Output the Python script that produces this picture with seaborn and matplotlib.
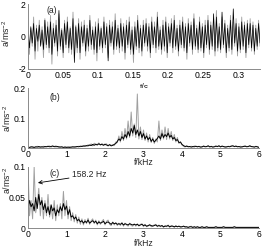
import matplotlib
matplotlib.use("Agg")
import matplotlib.pyplot as plt
import seaborn as sns
import numpy as np

# ---------------- data ----------------
t_max = 0.331
# panel (a) time signals
sig_gray = [0.8,-1.1,0.5,-0.6,1.2,-1.4,0.7,-0.9,1.0,-0.5,
            0.6,-1.3,1.1,-0.7,0.9,-1.0,1.3,-1.7,0.8,-0.6,
            1.0,-1.2,1.4,-0.8,0.5,-1.3,1.0,-0.7,1.2,-1.0,
            0.6,-1.1,1.5,-0.9,0.7,-1.0,1.1,-1.4,0.9,-0.6,
            1.0,-1.2,0.7,-0.9,1.3,-0.8,0.6,-1.1,0.9,-1.5,
            1.1,-0.8,0.6,-1.0,1.2,-0.7,0.8,-1.3,1.0,-0.6,
            0.9,-1.1,1.4,-0.8,0.7,-1.0,1.1,-0.9,0.8,-1.4,
            1.0,-0.7,1.2,-1.1,0.6,-1.6,0.9,-0.8,1.3,-1.0,
            0.7,-1.2,1.0,-0.6,1.1,-0.9,0.8,-1.3,1.2,-0.7,
            0.9,-1.0,1.5,-0.8,0.6,-1.1,1.0,-0.9,1.2,-1.3,
            0.8,-0.6,1.1,-1.0,1.3,-0.8,0.7,-1.2,1.0,-0.7,
            1.2,-0.9,0.8,-1.4,1.1,-0.6,0.9,-1.1,1.4,-0.8,
            0.7,-1.0,1.2,-0.9,0.8,-1.3,1.0,-0.7,1.3,-1.1,
            0.9,-0.8,1.1,-1.2,1.6,-0.9,0.8,-1.0,1.2,-0.7,
            1.0,-1.3,0.7,-0.9,1.3,-1.1,0.9,-0.6,1.1,-1.2,
            0.8,-1.0,1.2,-0.8,0.9,-1.3,1.0,-0.7,1.1,-0.9,
            0.9,-1.1,0.7,-0.8,1.0,-0.6]
sig_black = [0.3,-0.7,0.6,-0.4,0.8,-0.9,0.5,-0.3,0.7,-0.6,
             0.4,-0.8,1.0,-0.5,0.6,-0.7,0.9,-1.1,0.5,-0.4,
             0.7,-0.9,1.6,-0.6,0.4,-1.0,0.8,-0.5,0.9,-0.7,
             0.5,-0.8,1.1,-1.6,0.6,-0.7,0.8,-1.0,0.6,-0.4,
             0.7,-0.9,0.5,-0.6,1.0,-0.5,0.4,-0.8,0.6,-1.0,
             0.8,-0.6,0.5,-0.7,0.9,-0.5,0.6,-1.5,0.7,-0.4,
             0.6,-0.8,1.0,-0.6,0.5,-0.7,0.8,-0.6,0.6,-1.0,
             0.7,-0.5,0.9,-0.8,0.4,-1.1,0.6,-0.6,1.0,-0.7,
             0.5,-0.9,0.7,-0.4,0.8,-0.6,0.6,-1.0,0.9,-0.5,
             0.6,-0.7,1.2,-0.6,0.4,-0.8,0.7,-0.6,0.9,-1.0,
             0.6,-0.4,0.8,-0.7,1.0,-0.6,0.5,-0.9,0.7,-0.5,
             0.9,-0.7,0.6,-1.0,0.8,-0.4,0.7,-0.8,1.1,-0.6,
             0.5,-0.8,0.9,-0.7,0.6,-1.0,0.7,-0.5,1.0,-0.8,
             0.7,-0.6,1.4,-0.9,1.2,-0.7,0.6,-0.8,1.5,-0.5,
             0.8,-1.0,0.5,-0.7,1.0,-0.8,1.7,-0.4,0.8,-0.9,
             0.6,-0.8,0.9,-0.6,0.7,-1.0,0.8,-0.5,0.8,-0.7,
             0.7,-0.9,0.5,-0.6,0.8,-0.4]
t = np.linspace(0, t_max, len(sig_gray))

# panel (b) envelope spectrum (0..6 kHz)
spec_b_gray = [0.004,0.001,0.003,0.005,0.002,0.003,0.006,0.002,0.004,0.003,
               0.006,0.003,0.005,0.004,0.007,0.003,0.005,0.006,0.003,0.004,
               0.002,0.004,0.003,0.001,0.004,0.003,0.002,0.004,0.002,0.003,
               0.005,0.003,0.004,0.006,0.004,
               0.007,0.005,0.009,0.006,0.011,0.008,0.014,0.007,0.016,0.010,
               0.012,0.017,0.009,0.015,0.011,0.010,0.014,0.006,0.012,0.009,
               0.011,0.008,0.020,
               0.018,0.040,0.020,0.055,0.025,0.065,0.030,0.090,0.035,0.120,
               0.040,0.080,0.035,0.180,0.030,0.070,0.028,0.060,0.025,0.050,
               0.020,0.045,0.018,0.035,0.015,
               0.030,0.020,0.090,0.025,0.060,0.030,0.070,0.028,0.065,0.030,
               0.055,0.025,0.045,0.020,0.035,0.015,0.020,0.010,
               0.006,0.003,0.008,0.005,0.004,0.006,0.003,0.007,0.005,0.004,
               0.006,0.004,0.003,0.007,0.005,0.004,0.008,0.003,0.006,0.004,
               0.005,0.007,0.004,0.008,0.003,0.007,0.004,0.005,0.003,0.006,
               0.005,0.007,0.008,0.004,0.007,0.005,0.004,0.006,0.003,0.006,
               0.007,0.005,0.004,0.008,0.004,0.005,0.004,0.006,0.003,0.002]
spec_b_black = [0.003,0.002,0.004,0.003,0.002,0.004,0.003,0.005,0.003,0.004,
                0.003,0.005,0.004,0.006,0.004,0.005,0.007,0.004,0.006,0.005,
                0.004,0.003,0.004,0.002,0.003,0.002,0.003,0.002,0.003,0.004,
                0.003,0.004,0.005,0.004,0.006,
                0.005,0.007,0.006,0.008,0.007,0.010,0.008,0.012,0.009,0.013,
                0.010,0.014,0.011,0.012,0.009,0.013,0.010,0.008,0.011,0.007,
                0.009,0.012,0.015,
                0.022,0.030,0.025,0.038,0.030,0.045,0.035,0.055,0.040,0.065,
                0.050,0.075,0.045,0.060,0.040,0.055,0.035,0.048,0.030,0.040,
                0.028,0.035,0.022,0.030,0.020,
                0.026,0.032,0.040,0.030,0.048,0.035,0.045,0.038,0.050,0.036,
                0.042,0.030,0.035,0.025,0.028,0.018,0.020,0.012,
                0.008,0.005,0.006,0.004,0.005,0.003,0.005,0.004,0.006,0.004,
                0.005,0.003,0.004,0.006,0.004,0.005,0.007,0.004,0.005,0.003,
                0.004,0.006,0.005,0.007,0.004,0.006,0.005,0.003,0.004,0.005,
                0.004,0.006,0.007,0.005,0.006,0.004,0.005,0.003,0.004,0.005,
                0.006,0.004,0.005,0.007,0.005,0.004,0.003,0.005,0.004,0.002]

# panel (c) envelope spectrum (0..6 kHz)
spec_c_gray = [0.100,0.020,0.045,0.015,0.100,0.025,0.040,0.065,0.020,0.050,
               0.015,0.045,0.020,0.055,0.018,0.035,0.015,0.045,0.012,0.038,
               0.020,0.040,0.015,0.060,0.020,0.045,0.015,0.035,0.012,0.025,
               0.010,0.022,0.008,0.018,0.006,0.015,0.005,0.014,0.007,0.016,
               0.006,0.012,0.015,0.007,0.013,0.005,0.012,0.006,0.011,0.014,
               0.005,0.011,0.013,0.006,0.004,0.010,0.005,0.009,0.004,0.008,
               0.004,0.009,0.003,0.008,0.005,0.003,0.008,0.004,0.003,0.007,
               0.003,0.007,0.003,0.006,0.007,0.002,0.006,0.002,0.003,0.006,
               0.002,0.004,0.005,0.006,0.002,0.005,0.002,0.004,0.001,0.004,
               0.002,0.005,0.001,0.004,0.003,0.001,0.004,0.002,0.003,0.001,
               0.002,0.003,0.001,0.002,0.001,0.002,0.003,0.001,0.002,0.001,
               0.002,0.001,0.001,0.002,0.001,0.001,0.002,0.001,0.001,0.001,
               0.001,0.001,0.002,0.001,0.001,0.001,0.001,0.002,0.001,0.001,
               0.001,0.001,0.001,0.001,0.002,0.001,0.001,0.001,0.001,0.001,
               0.001,0.001,0.001,0.001,0.001,0.001,0.001,0.001,0.001,0.001,0.001]
spec_c_black = [0.030,0.045,0.035,0.040,0.028,0.050,0.032,0.055,0.038,0.045,
                0.030,0.040,0.025,0.035,0.022,0.038,0.028,0.033,0.020,0.030,
                0.025,0.035,0.028,0.040,0.030,0.036,0.022,0.030,0.018,0.020,
                0.015,0.018,0.012,0.014,0.010,0.012,0.008,0.011,0.009,0.013,
                0.008,0.010,0.012,0.009,0.011,0.007,0.010,0.008,0.009,0.011,
                0.007,0.009,0.010,0.008,0.006,0.009,0.007,0.008,0.006,0.007,
                0.006,0.008,0.005,0.007,0.006,0.005,0.007,0.006,0.005,0.006,
                0.005,0.006,0.004,0.005,0.006,0.004,0.005,0.003,0.004,0.005,
                0.004,0.003,0.004,0.005,0.003,0.004,0.003,0.004,0.002,0.003,
                0.003,0.004,0.002,0.003,0.003,0.002,0.003,0.002,0.003,0.002,
                0.002,0.003,0.002,0.002,0.001,0.002,0.002,0.001,0.002,0.001,
                0.002,0.001,0.001,0.002,0.001,0.001,0.002,0.001,0.001,0.001,
                0.001,0.001,0.002,0.001,0.001,0.001,0.001,0.002,0.001,0.001,
                0.001,0.001,0.001,0.001,0.002,0.001,0.001,0.001,0.001,0.001,
                0.001,0.001,0.001,0.001,0.001,0.001,0.001,0.001,0.001,0.001,0.001]
f = np.linspace(0, 6, len(spec_b_gray))

t_ticks = [0, 0.05, 0.1, 0.15, 0.2, 0.25, 0.3]
t_ticklabels = ["0", "0.05", "0.1", "0.15", "0.2", "0.25", "0.3"]
f_ticks = [0, 1, 2, 3, 4, 5, 6]
f_ticklabels = ["0", "1", "2", "3", "4", "5", "6"]
ya_ticks, ya_labels = [-2, 0, 2], ["-2", "0", "2"]
yb_ticks, yb_labels = [0, 0.1, 0.2], ["0", "0.1", "0.2"]
yc_ticks, yc_labels = [0, 0.05, 0.1], ["0", "0.05", "0.1"]
ylabel = "a/ms$^{-2}$"
annot_text = "158.2 Hz"
annot_freq = 0.158

# ---------------- style ----------------
sns.set_theme(style="white")
plt.rcParams["font.family"] = ["Liberation Sans", "DejaVu Sans"]
plt.rcParams["mathtext.fontset"] = "custom"
plt.rcParams["mathtext.rm"] = "Liberation Sans"
FS = 6.2
GRAY = "#a0a0a0"
SPINE = "#8a8a8a"

fig = plt.figure(figsize=(2.65, 2.49), dpi=100)
W, H = 265, 249
def add_ax(l, r, top, bot):
    return fig.add_axes([l / W, 1 - bot / H, (r - l) / W, (bot - top) / H])

ax_a = add_ax(28, 260, 4, 69)
ax_b = add_ax(28, 259, 88, 148)
ax_c = add_ax(28, 259, 167, 228)

def style(ax):
    for s in ["top", "right"]:
        ax.spines[s].set_visible(False)
    for s in ["left", "bottom"]:
        ax.spines[s].set_color(SPINE)
        ax.spines[s].set_linewidth(0.7)
    ax.tick_params(direction="in", length=2, width=0.5, color=SPINE,
                   labelsize=FS, pad=1.5, labelcolor="black")
    ax.set_facecolor("white")

sns.lineplot(x=t, y=sig_gray, ax=ax_a, color=GRAY, linewidth=0.6, estimator=None)
sns.lineplot(x=t, y=sig_black, ax=ax_a, color="black", linewidth=0.5, estimator=None)
ax_a.set_xlim(0, t_max)
ax_a.set_ylim(-2, 2)
ax_a.set_xticks(t_ticks, t_ticklabels)
ax_a.set_yticks(ya_ticks, ya_labels)
ax_a.set_xlabel("t/s", fontsize=FS)
ax_a.xaxis.set_label_coords(0.5, -0.21)
ax_a.text(0.034, 1.6, "(a)", fontsize=FS, ha="center", va="center")

sns.lineplot(x=f, y=spec_b_gray, ax=ax_b, color=GRAY, linewidth=0.7, estimator=None)
sns.lineplot(x=f, y=spec_b_black, ax=ax_b, color="black", linewidth=0.7, estimator=None)
ax_b.set_xlim(0, 6)
ax_b.set_ylim(0, 0.2)
ax_b.set_xticks(f_ticks, f_ticklabels)
ax_b.set_yticks(yb_ticks, yb_labels)
ax_b.set_xlabel("f/kHz", fontsize=FS)
ax_b.xaxis.set_label_coords(0.5, -0.17)
ax_b.text(0.7, 0.167, "(b)", fontsize=FS, ha="center", va="center")

sns.lineplot(x=f, y=spec_c_gray, ax=ax_c, color=GRAY, linewidth=0.7, estimator=None)
sns.lineplot(x=f, y=spec_c_black, ax=ax_c, color="black", linewidth=0.7, estimator=None)
ax_c.set_xlim(0, 6)
ax_c.set_ylim(0, 0.1)
ax_c.set_xticks(f_ticks, f_ticklabels)
ax_c.set_yticks(yc_ticks, yc_labels)
ax_c.set_xlabel("f/kHz", fontsize=FS)
ax_c.xaxis.set_label_coords(0.5, -0.175)
ax_c.text(0.68, 0.09, "(c)", fontsize=FS, ha="center", va="center")
ax_c.annotate(annot_text, xy=(annot_freq + 0.1, 0.074), xytext=(1.15, 0.087),
              fontsize=FS, ha="left", va="center",
              arrowprops=dict(arrowstyle="->", color="black", lw=0.6,
                              shrinkA=0, shrinkB=0))

for ax in (ax_a, ax_b, ax_c):
    style(ax)
    ax.set_ylabel(ylabel, fontsize=FS)
ax_a.yaxis.set_label_coords(-0.07, 0.55)
ax_b.yaxis.set_label_coords(-0.065, 0.5)
ax_c.yaxis.set_label_coords(-0.065, 0.78)

fig.savefig("out.png", dpi=100, facecolor="white")
